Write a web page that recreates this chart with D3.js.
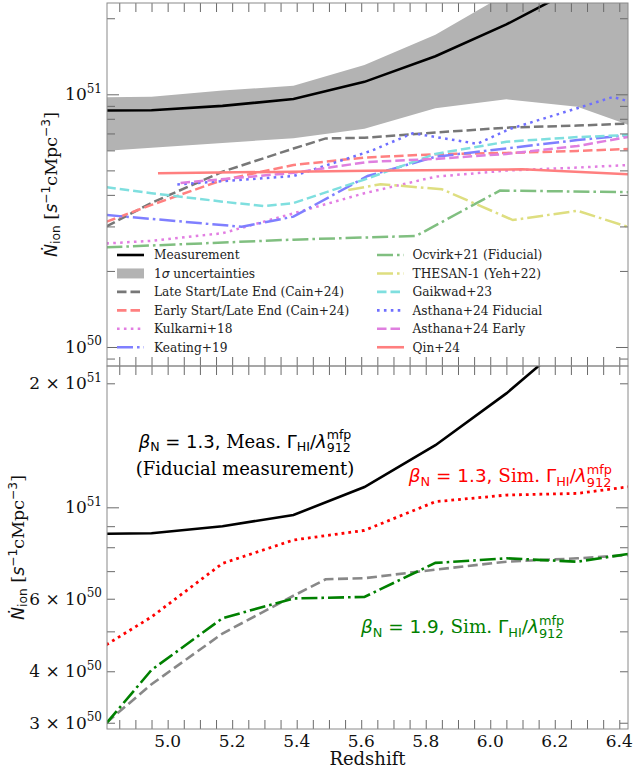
<!DOCTYPE html>
<html>
<head>
<meta charset="utf-8">
<script src="https://cdn.jsdelivr.net/npm/d3@7"></script>
<style>
body { margin: 0; background: #fff; }
text { white-space: pre; }
</style>
</head>
<body>
<svg id="chart" width="633" height="772"></svg>
<script>
// ---- data ----
var zGrid = [4.81, 4.95, 5.17, 5.39, 5.61, 5.83, 6.05, 6.27, 6.43];
var measurement = [8.63e50, 8.65e50, 9.0e50, 9.58e50, 1.12e51, 1.415e51, 1.89e51, 2.65e51, 3.2e51];
var bandHi = [9.73e50, 9.78e50, 1.035e51, 1.08e51, 1.305e51, 1.72e51, 2.5e51, 3.5e51, 4.5e51];
var bandLo = [5.98e50, 6.15e50, 6.42e50, 6.70e50, 7.30e50, 8.81e50, 9.55e50, 8.93e50, 7.55e50];

var zCainLate = [4.81, 4.95, 5.17, 5.39, 5.49, 5.61, 5.83, 6.05, 6.27, 6.43];
var cainLate = [3.0e50, 3.72e50, 4.94e50, 6.1e50, 6.69e50, 6.73e50, 7.06e50, 7.38e50, 7.52e50, 7.66e50];
var cainEarly = [3.13e50, 3.65e50, 4.58e50, 5.25e50, 5.62e50, 5.79e50, 5.86e50, 5.97e50, 6.08e50];
var kulkarni = [2.57e50, 2.63e50, 2.82e50, 3.38e50, 4.06e50, 4.72e50, 4.99e50, 5.13e50, 5.25e50];
var zKeating = [4.81, 5.23, 5.39, 5.62, 5.83, 6.05, 6.27, 6.43];
var keating = [3.33e50, 2.99e50, 3.28e50, 4.75e50, 5.66e50, 6.11e50, 6.59e50, 6.90e50];
var zOcvirk = [4.81, 5.39, 5.77, 6.03, 6.43];
var ocvirk = [2.48e50, 2.66e50, 2.75e50, 4.16e50, 4.10e50];
var zThesan = [5.56, 5.66, 5.85, 6.07, 6.27, 6.43];
var thesan = [4.18e50, 4.41e50, 4.21e50, 3.18e50, 3.46e50, 2.98e50];
var zGaikwad = [4.81, 4.95, 5.17, 5.30, 5.39, 5.61, 5.83, 6.05, 6.27, 6.43];
var gaikwad = [4.29e50, 4.06e50, 3.76e50, 3.61e50, 3.71e50, 4.6e50, 5.81e50, 6.49e50, 6.77e50, 6.90e50];
var zAstFid = [5.03, 5.39, 5.63, 5.76, 5.96, 6.06, 6.27, 6.38, 6.43];
var astFid = [4.40e50, 4.75e50, 5.97e50, 7.01e50, 6.37e50, 7.29e50, 8.81e50, 9.76e50, 9.37e50];
var zAstEarly = [5.04, 5.39, 5.62, 5.83, 6.05, 6.27, 6.43];
var astEarly = [4.46e50, 4.89e50, 5.40e50, 5.55e50, 5.81e50, 6.24e50, 6.79e50];
var zQin = [4.97, 5.62, 6.1, 6.43];
var qin = [4.87e50, 4.98e50, 5.05e50, 4.82e50];

// lower panel
var beta13Sim = [4.64e50, 5.42e50, 7.31e50, 8.33e50, 8.79e50, 1.032e51, 1.071e51, 1.081e51, 1.122e51];
var beta19Sim = [2.99e50, 4.03e50, 5.38e50, 6.01e50, 6.06e50, 7.33e50, 7.52e50, 7.38e50, 7.71e50];

var xMajor = [5.0, 5.2, 5.4, 5.6, 5.8, 6.0, 6.2, 6.4];
var topLabels = [{v: 1e51, m: "", e: "51"}, {v: 1e50, m: "", e: "50"}];
var botLabels = [{v: 2e51, m: "2", e: "51"}, {v: 1e51, m: "", e: "51"}, {v: 6e50, m: "6", e: "50"},
                 {v: 4e50, m: "4", e: "50"}, {v: 3e50, m: "3", e: "50"}];

// ---- layout ----
var serif = "'DejaVu Serif', serif", sans = "'DejaVu Sans', sans-serif";
var L = 107, R = 628, T1 = 3, B1 = 366, T2 = 366, B2 = 729;
var svg = d3.select("#chart");

var x = d3.scaleLinear().domain([4.812, 6.427]).range([L, R]);
var y1 = d3.scaleLog().domain([8.41e49, 2.298e51]).range([B1, T1]);
var y2 = d3.scaleLog().domain([2.897e50, 2.203e51]).range([B2, T2]);

var defs = svg.append("defs");
defs.append("clipPath").attr("id", "c1").append("rect").attr("x", L).attr("y", T1).attr("width", R - L).attr("height", B1 - T1);
defs.append("clipPath").attr("id", "c2").append("rect").attr("x", L).attr("y", T2).attr("width", R - L).attr("height", B2 - T2);

function pts(zs, vs) { return zs.map(function(z, i) { return [z, vs[i]]; }); }

var DASH = "9.5,4", DOT = "2.6,4.3", DASHDOT = "16,4,2.6,4";

// rich text as one <text> with tspans; widths measured first
// (ov = start at previous piece's start, for stacked sub/sup)
function rich(g, px, py, parts, anchor, color, rot) {
  var probe = svg.append("text").attr("visibility", "hidden");
  var pos = 0, prevStart = 0;
  parts.forEach(function(p) {
    probe.attr("font-family", p.f).attr("font-size", p.z).attr("font-style", p.i ? "italic" : "normal").text(p.s);
    var w = probe.node().getComputedTextLength();
    p.x0 = p.ov ? prevStart : pos;
    prevStart = p.x0;
    pos = Math.max(pos, p.x0 + w);
  });
  probe.remove();
  var off = anchor == "end" ? -pos : anchor == "middle" ? -pos / 2 : 0;
  var t = g.append("text").attr("fill", color)
    .attr("transform", "translate(" + px + "," + py + ")" + (rot ? " rotate(" + rot + ")" : ""));
  parts.forEach(function(p) {
    t.append("tspan").attr("x", p.x0 + off).attr("y", p.dy || 0)
      .attr("font-family", p.f).attr("font-size", p.z)
      .attr("font-style", p.i ? "italic" : "normal").text(p.s);
  });
  return t;
}

function betaParts(bval, word, s) {
  var sm = s * 0.7;
  return [
    {s: "β", f: sans, z: s, i: true},
    {s: "N", f: sans, z: sm, dy: s * 0.22},
    {s: " = " + bval + ", ", f: sans, z: s},
    {s: word + " ", f: serif, z: s},
    {s: "Γ", f: sans, z: s},
    {s: "HI", f: sans, z: sm, dy: s * 0.22},
    {s: "/", f: sans, z: s},
    {s: "λ", f: sans, z: s, i: true},
    {s: "912", f: sans, z: sm, dy: s * 0.25},
    {s: "mfp", f: sans, z: sm, dy: -s * 0.45, ov: true}
  ];
}

function ylabelParts(s) {
  var sm = s * 0.7;
  return [
    {s: "Ṅ", f: sans, z: s, i: true},
    {s: "ion", f: sans, z: sm, dy: s * 0.22},
    {s: " [", f: serif, z: s},
    {s: "s", f: sans, z: s, i: true},
    {s: "−1", f: sans, z: sm, dy: -s * 0.4},
    {s: "cMpc", f: serif, z: s},
    {s: "−3", f: sans, z: sm, dy: -s * 0.4},
    {s: "]", f: serif, z: s}
  ];
}

function drawLine(g, y, data, color, width, dash) {
  var line = d3.line().x(function(d) { return x(d[0]); }).y(function(d) { return y(d[1]); });
  g.append("path").datum(data).attr("d", line)
    .attr("fill", "none").attr("stroke", color).attr("stroke-width", width)
    .attr("stroke-dasharray", dash || null);
}

function frame(top, bot, y, majors, minors) {
  var g = svg.append("g");
  var xMinor = d3.range(4.85, 6.43, 0.05);
  [[d3.axisBottom(x), bot], [d3.axisTop(x), top]].forEach(function(a) {
    g.append("g").attr("transform", "translate(0," + a[1] + ")")
      .call(a[0].tickValues(xMinor).tickSize(-9).tickFormat(""));
  });
  [[d3.axisLeft, L], [d3.axisRight, R]].forEach(function(a) {
    g.append("g").attr("transform", "translate(" + a[1] + ",0)")
      .call(a[0](y).tickValues(majors).tickSize(-12).tickFormat(""));
    g.append("g").attr("transform", "translate(" + a[1] + ",0)")
      .call(a[0](y).tickValues(minors).tickSize(-8).tickFormat(""));
  });
  g.selectAll(".domain").remove();
  g.selectAll(".tick line").attr("stroke", "#6a6a6a").attr("stroke-width", 1);
  svg.append("rect").attr("x", L).attr("y", top).attr("width", R - L).attr("height", bot - top)
    .attr("fill", "none").attr("stroke", "#8a8a8a").attr("stroke-width", 1);
}

// ---- top panel ----
var g1 = svg.append("g").attr("clip-path", "url(#c1)");
var area = d3.area().x(function(d) { return x(d[0]); })
  .y0(function(d) { return y1(d[1]); }).y1(function(d) { return y1(d[2]); });
g1.append("path").datum(zGrid.map(function(z, i) { return [z, bandLo[i], bandHi[i]]; }))
  .attr("d", area).attr("fill", "#b3b3b3");

var topSeries = [
  {z: zCainLate, v: cainLate, c: "#777777", d: DASH, name: "Late Start/Late End (Cain+24)"},
  {z: zGrid, v: cainEarly, c: "#ff8080", d: DASH, name: "Early Start/Late End (Cain+24)"},
  {z: zGrid, v: kulkarni, c: "#e27ee2", d: DOT, name: "Kulkarni+18"},
  {z: zKeating, v: keating, c: "#7f7fff", d: DASHDOT, name: "Keating+19"},
  {z: zOcvirk, v: ocvirk, c: "#80bf80", d: DASHDOT, name: "Ocvirk+21 (Fiducial)"},
  {z: zThesan, v: thesan, c: "#dede80", d: DASHDOT, name: "THESAN-1 (Yeh+22)"},
  {z: zGaikwad, v: gaikwad, c: "#7fdfdf", d: DASH, name: "Gaikwad+23"},
  {z: zAstFid, v: astFid, c: "#6f6fff", d: DOT, name: "Asthana+24 Fiducial"},
  {z: zAstEarly, v: astEarly, c: "#df7fdf", d: DASH, name: "Asthana+24 Early"},
  {z: zQin, v: qin, c: "#ff7f7f", d: null, name: "Qin+24"}
];
topSeries.forEach(function(s) { drawLine(g1, y1, pts(s.z, s.v), s.c, 2.5, s.d); });
drawLine(g1, y1, pts(zGrid, measurement), "#000", 2.6, null);

var topMinor = [9e49, 2e50, 3e50, 4e50, 5e50, 6e50, 7e50, 8e50, 9e50, 2e51];
frame(T1, B1, y1, [1e50, 1e51], topMinor);

// legend
var leg = svg.append("g");
var legEntries = [{name: "Measurement", c: "#000", d: null}, {name: "1σ uncertainties", band: true}]
  .concat(topSeries.slice(0, 4));
var legEntries2 = topSeries.slice(4);
function legendCol(entries, hx, tx) {
  entries.forEach(function(e, i) {
    var cy = 255 + i * 18.45;
    if (e.band) {
      leg.append("rect").attr("x", hx).attr("y", cy - 5).attr("width", 27).attr("height", 10).attr("fill", "#b3b3b3");
      rich(leg, tx, cy + 4.3, [{s: "1", f: serif, z: 12.2}, {s: "σ", f: sans, z: 12.2, i: true},
        {s: " uncertainties", f: serif, z: 12.2}], "start", "#222");
    } else {
      leg.append("line").attr("x1", hx).attr("x2", hx + 27).attr("y1", cy).attr("y2", cy)
        .attr("stroke", e.c).attr("stroke-width", 2.6).attr("stroke-dasharray", e.d || null);
      leg.append("text").attr("x", tx).attr("y", cy + 4.3).attr("font-family", serif)
        .attr("font-size", 12.2).attr("fill", "#222").text(e.name);
    }
  });
}
legendCol(legEntries, 117, 154);
legendCol(legEntries2, 377, 412.5);

// ---- bottom panel ----
var g2 = svg.append("g").attr("clip-path", "url(#c2)");
drawLine(g2, y2, pts(zCainLate, cainLate), "#888888", 2.6, "10,4.5");
drawLine(g2, y2, pts(zGrid, beta19Sim), "#008000", 2.6, DASHDOT);
drawLine(g2, y2, pts(zGrid, beta13Sim), "#ff0000", 2.8, "2.8,4");
drawLine(g2, y2, pts(zGrid, measurement), "#000", 2.6, null);

var botMinor = [3e50, 4e50, 5e50, 6e50, 7e50, 8e50, 9e50, 2e51];
frame(T2, B2, y2, [1e51], botMinor);

// ---- tick labels ----
xMajor.forEach(function(v) {
  svg.append("text").attr("x", x(v)).attr("y", 746.5).attr("text-anchor", "middle")
    .attr("font-family", serif).attr("font-size", 17).attr("fill", "#111").text(v.toFixed(1));
});
function yLab(y, d) {
  var parts = [];
  if (d.m) parts.push({s: d.m + " × ", f: serif, z: 17});
  parts.push({s: "10", f: serif, z: 17});
  parts.push({s: d.e, f: serif, z: 12, dy: -7.5});
  rich(svg, 102, y(d.v) + 6, parts, "end", "#111");
}
topLabels.forEach(function(d) { yLab(y1, d); });
botLabels.forEach(function(d) { yLab(y2, d); });

// ---- axis titles ----
rich(svg, 56.5, (T1 + B1) / 2, ylabelParts(17.5), "middle", "#111", -90);
rich(svg, 23.5, (T2 + B2) / 2, ylabelParts(17.5), "middle", "#111", -90);
svg.append("text").attr("x", (L + R) / 2).attr("y", 765).attr("text-anchor", "middle")
  .attr("font-family", serif).attr("font-size", 18).attr("fill", "#111").text("Redshift");

// ---- annotations ----
rich(svg, 245, 447.5, betaParts("1.3", "Meas.", 18), "middle", "#000");
svg.append("text").attr("x", 245).attr("y", 474.5).attr("text-anchor", "middle")
  .attr("font-family", serif).attr("font-size", 18).attr("fill", "#000").text("(Fiducial measurement)");
rich(svg, 612, 482, betaParts("1.3", "Sim.", 18.4), "end", "#ff0000");
rich(svg, 361, 633, betaParts("1.9", "Sim.", 18.4), "start", "#008000");
</script>
</body>
</html>
